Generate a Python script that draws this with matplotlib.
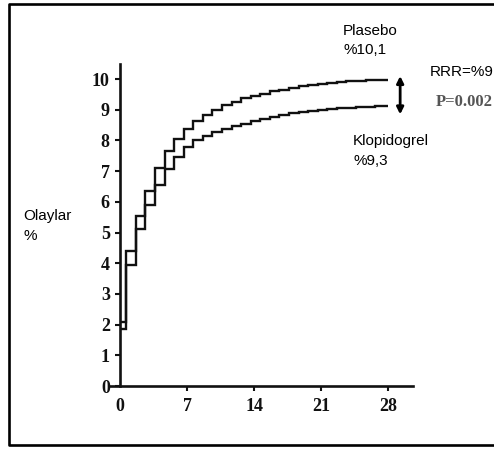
import matplotlib
matplotlib.use("Agg")
import matplotlib.pyplot as plt
from matplotlib.lines import Line2D

# gün sərhədləri (pillələr hər gün ~0.65-də dəyişir)
step_edges = [0, 0.65, 1.65, 2.65, 3.65, 4.65, 5.65, 6.65, 7.65, 8.65, 9.65,
              10.65, 11.65, 12.65, 13.65, 14.65, 15.65, 16.65, 17.65, 18.65,
              19.65, 20.65, 21.65, 22.65, 23.65, 24.65, 25.65, 26.65, 27.65, 28]

plasebo = [2.1, 4.4, 5.55, 6.35, 7.1, 7.65, 8.05, 8.38, 8.65, 8.82,
           9.0, 9.14, 9.27, 9.37, 9.45, 9.53, 9.6, 9.66, 9.72, 9.77,
           9.81, 9.85, 9.88, 9.91, 9.93, 9.95, 9.96, 9.97, 9.98]

klopidogrel = [1.85, 3.95, 5.12, 5.9, 6.55, 7.08, 7.47, 7.78, 8.0, 8.15,
               8.27, 8.37, 8.46, 8.55, 8.63, 8.7, 8.77, 8.83, 8.88, 8.93,
               8.97, 9.0, 9.03, 9.05, 9.07, 9.09, 9.1, 9.11, 9.12]

x_ticks = [0, 7, 14, 21, 28]
y_ticks = list(range(0, 11))

SANS = ["Liberation Sans", "DejaVu Sans"]
SERIF = ["Liberation Serif", "DejaVu Serif"]

fig = plt.figure(figsize=(4.94, 4.49), dpi=100)
ax = fig.add_axes([0.2235, 0.1403, 0.836 - 0.2235, 0.858 - 0.1403])

ax.stairs(plasebo, step_edges, baseline=None, color="#111111", lw=1.7)
ax.stairs(klopidogrel, step_edges, baseline=None, color="#111111", lw=1.7)

ax.set_xlim(-1.0, 30.6)
ax.set_ylim(0, 10.5)
ax.spines["left"].set_position(("data", 0))
ax.spines["top"].set_visible(False)
ax.spines["right"].set_visible(False)
for s in ("left", "bottom"):
    ax.spines[s].set_linewidth(1.9)
    ax.spines[s].set_color("#111111")

ax.set_xticks(x_ticks)
ax.set_yticks(y_ticks)
ax.tick_params(axis="both", direction="out", length=3.8, width=1.5,
               color="#111111", labelsize=13)
ax.tick_params(axis="y", pad=3.5)
ax.tick_params(axis="x", pad=4.5)
ax.xaxis.get_major_ticks()[0].tick1line.set_visible(False)
for lab in ax.get_xticklabels() + ax.get_yticklabels():
    lab.set_family(SERIF)
    lab.set_fontweight("bold")
    lab.set_color("#111111")

# etiketlər
ax.text(23.3, 11.57, "Plasebo", family=SANS, fontsize=11, va="center", clip_on=False)
ax.text(23.3, 10.94, "%10,1", family=SANS, fontsize=11, va="center", clip_on=False)
ax.text(24.35, 7.99, "Klopidogrel", family=SANS, fontsize=11, va="center", clip_on=False)
ax.text(24.35, 7.34, "%9,3", family=SANS, fontsize=11, va="center", clip_on=False)
ax.text(32.4, 10.24, "RRR=%9", family=SANS, fontsize=11, va="center", clip_on=False)
ax.text(33.0, 9.26, "P=0.002", family=SERIF, fontsize=12, fontweight="bold",
        color="#555555", va="center", clip_on=False)
ax.text(-10.1, 5.54, "Olaylar", family=SANS, fontsize=11, va="center", clip_on=False)
ax.text(-10.1, 4.89, "%", family=SANS, fontsize=11, va="center", clip_on=False)

ax.annotate("", xy=(29.26, 10.1), xytext=(29.26, 8.85),
            arrowprops=dict(arrowstyle="<|-|>", lw=2, color="black",
                            mutation_scale=10, shrinkA=0, shrinkB=0),
            annotation_clip=False)

# çərçivə: sağ tərəfi şəkildən kənarda qalır, ona görə açıq xətt
left, top, bottom = 8.5 / 494, 1 - 3.5 / 449, 4.5 / 449
fig.add_artist(Line2D([1.0, left, left, 1.0], [top, top, bottom, bottom],
                      transform=fig.transFigure, color="black", lw=1.9))

fig.savefig("out.png", dpi=100)
